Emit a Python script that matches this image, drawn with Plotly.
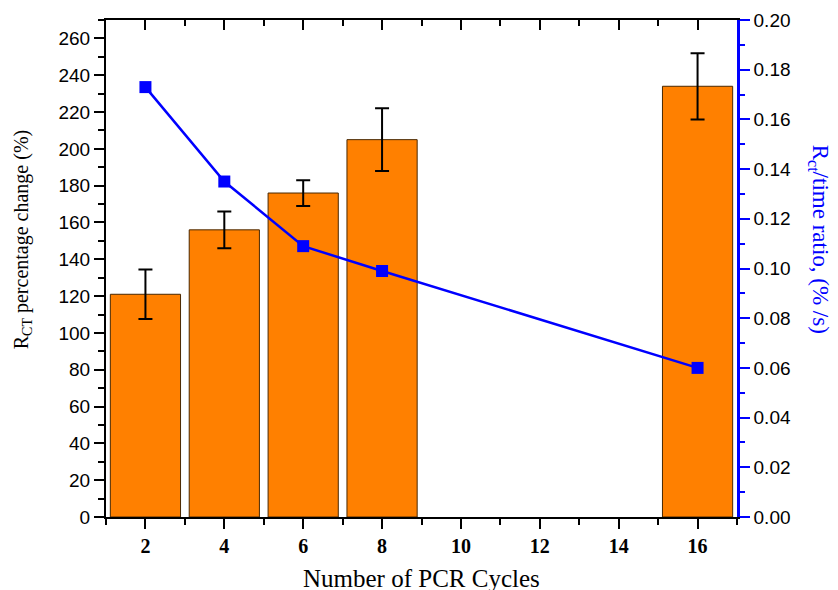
import plotly.graph_objects as go

cycles = [2, 4, 6, 8, 16]
rct_change = [121, 156, 176, 205, 234]
rct_err = [13.5, 10, 7, 17, 18]
ratio = [0.173, 0.135, 0.109, 0.099, 0.060]

x_tick_vals = [2, 4, 6, 8, 10, 12, 14, 16]
x_tick_labels = ["2", "4", "6", "8", "10", "12", "14", "16"]

serif = "Liberation Serif"
sans = "Liberation Sans"

fig = go.Figure()
fig.add_trace(go.Bar(
    x=cycles, y=rct_change, width=1.78,
    marker=dict(color="#FF8000", line=dict(color="#4a2800", width=1)),
    error_y=dict(type="data", array=rct_err, color="black", thickness=2, width=7),
    yaxis="y", xaxis="x", showlegend=False))
fig.add_trace(go.Scatter(
    x=cycles, y=ratio, mode="lines+markers",
    line=dict(color="#0000FF", width=2.5),
    marker=dict(symbol="square", size=12, color="#0000FF"),
    yaxis="y2", xaxis="x", showlegend=False))
fig.add_trace(go.Scatter(x=[None], y=[None], xaxis="x2", yaxis="y", showlegend=False, hoverinfo="skip"))

fig.update_layout(
    width=838, height=590,
    margin=dict(l=106, r=101, t=20, b=73),
    plot_bgcolor="white", paper_bgcolor="white",
    xaxis=dict(
        range=[1, 17], tickvals=x_tick_vals, ticktext=x_tick_labels, automargin=False,
        ticks="outside", ticklen=10, tickwidth=2, tickcolor="black",
        minor=dict(dtick=1, tick0=1, ticks="outside", ticklen=6, tickwidth=1.5, tickcolor="black"),
        showline=True, linecolor="black", linewidth=2,
        showgrid=False, zeroline=False,
        tickfont=dict(family=serif, size=20, color="black", weight="bold"),
    ),
    xaxis2=dict(
        range=[1, 17], overlaying="x", side="top", tickvals=x_tick_vals, automargin=False,
        showticklabels=False, ticks="inside", ticklen=10, tickwidth=2, tickcolor="black",
        minor=dict(dtick=1, tick0=1, ticks="inside", ticklen=6, tickwidth=1.5, tickcolor="black"),
        showline=True, linecolor="black", linewidth=2, showgrid=False, zeroline=False,
    ),
    yaxis=dict(
        range=[0, 270], tickvals=list(range(0, 261, 20)), automargin=False,
        ticks="outside", ticklen=10, tickwidth=2, tickcolor="black",
        minor=dict(dtick=10, tick0=0, ticks="outside", ticklen=6, tickwidth=1.5, tickcolor="black"),
        showline=True, linecolor="black", linewidth=2,
        showgrid=False, zeroline=False,
        tickfont=dict(family=sans, size=19, color="black"),
    ),
    yaxis2=dict(
        range=[0, 0.2], overlaying="y", side="right", dtick=0.02, tickformat=".2f", automargin=False,
        ticks="outside", ticklen=10, tickwidth=2, tickcolor="#0000FF",
        minor=dict(dtick=0.01, tick0=0, ticks="outside", ticklen=5, tickwidth=1.5, tickcolor="#0000FF"),
        showline=True, linecolor="#0000FF", linewidth=2.5,
        showgrid=False, zeroline=False,
        tickfont=dict(family=sans, size=19, color="black"),
    ),
    annotations=[
        dict(text="Number of PCR Cycles", xref="paper", yref="paper",
             x=0.5, y=-0.123, xanchor="center", yanchor="middle", showarrow=False,
             font=dict(family=serif, size=25, color="black")),
        dict(text="R<sub>CT</sub> percentage change (%)", textangle=-90,
             xref="paper", yref="paper", x=-0.133, y=0.557, xanchor="center", yanchor="middle",
             showarrow=False, font=dict(family=serif, size=20, color="black")),
        dict(text="R<sub>ct</sub>/time ratio, (% /s)", textangle=90,
             xref="paper", yref="paper", x=1.13, y=0.56, xanchor="center", yanchor="middle",
             showarrow=False, font=dict(family=serif, size=23, color="#0000FF")),
    ],
)

fig.write_html("out.html", config={"displayModeBar": False},
               post_script="document.body.style.margin='0';document.body.style.overflow='hidden';")
